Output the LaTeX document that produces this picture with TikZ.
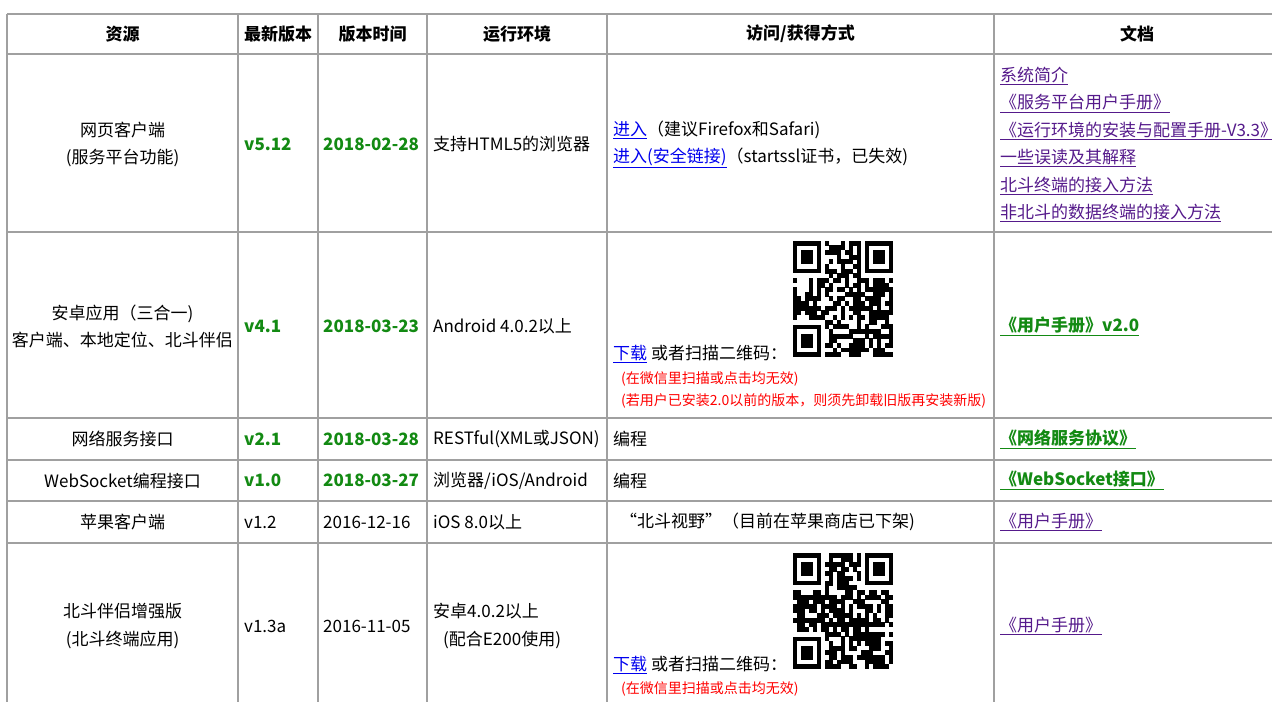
\documentclass[tikz,border=0pt]{standalone}
\usepackage{fontspec}
\setmainfont{Noto Sans CJK SC}
\usetikzlibrary{positioning}

\definecolor{rulegray}{HTML}{A0A0A0}
\definecolor{vgreen}{HTML}{138A13}
\definecolor{linkblue}{HTML}{0000EE}
\definecolor{linkpurple}{HTML}{551A8B}
\definecolor{notered}{HTML}{FF0000}

\newcommand{\cellsize}{\fontsize{17}{27.4}\selectfont}
\newcommand{\notesize}{\fontsize{14}{22}\selectfont}
\newcommand{\lnk}[1]{\textcolor{linkblue}{\underline{#1}}}
\newcommand{\vlnk}[1]{\textcolor{linkpurple}{\underline{#1}}}
\newcommand{\glnk}[1]{\textcolor{vgreen}{\bfseries\underline{#1}}}

% a QR code, top left corner at (#1,#2)
\newcommand{\qrcode}[3]{%
  \pgfmathsetseed{#3}
  \foreach \i in {0,...,24} {
    \foreach \j in {0,...,24} {
      \pgfmathtruncatemacro{\keep}{((\i<8 && \j<8) || (\i>16 && \j<8) || (\i<8 && \j>16)) ? 0 : (rnd<0.62)}
      \ifnum\keep=1 \fill (#1+4*\i-0.2,#2+4.64*\j-0.2) rectangle ++(4.4,4.96); \fi
    }
  }
  \foreach \a/\b in {0/0,18/0,0/18} {
    \fill (#1+4*\a,#2+4.64*\b) rectangle ++(28,32.48);
    \fill[white] (#1+4*\a+4,#2+4.64*\b+4.64) rectangle ++(20,23.2);
    \fill (#1+4*\a+8,#2+4.64*\b+9.28) rectangle ++(12,13.92);
  }
}

\tikzstyle{rule}=[rulegray, line width=1.6pt]
\tikzstyle{head}=[inner sep=0pt, font=\cellsize\bfseries]
\tikzstyle{cell}=[inner sep=0pt, anchor=west, align=left, font=\cellsize]
\tikzstyle{mid}=[inner sep=0pt, align=center, font=\cellsize]
\tikzstyle{ver}=[cell, font=\cellsize\bfseries, text=vgreen]
\tikzstyle{note}=[inner sep=0pt, anchor=west, font=\notesize, text=notered]

\begin{document}
\begin{tikzpicture}[x=1pt,y=-1pt]
  \useasboundingbox[fill=white] (0,0) rectangle (1272,702);

  % table rules
  \foreach \y in {14,54,232,418,460,501,543}
    \draw[rule] (7,\y) -- (1272,\y);
  \foreach \x in {7,238,318,427,607,994}
    \draw[rule] (\x,14) -- (\x,702);

  % header row
  \node[head] (hres)  at (122.5,34) {资源};
  \node[head] (hver)  at (278,34)   {最新版本};
  \node[head] (hdate) at (372.5,34) {版本时间};
  \node[head] (henv)  at (517,34)   {运行环境};
  \node[head] (hacc)  at (800.5,34) {访问/获得方式};
  \node[head] (hdoc)  at (1137,34)  {文档};

  % web client
  \node[mid]  (res1)  at (122.5,144.5) {网页客户端\\(服务平台功能)};
  \node[ver]  (ver1)  at (244,144.5) {v5.12};
  \node[ver]  (date1) at (323,144.5) {2018-02-28};
  \node[cell] (env1)  at (433,144.5) {支持HTML5的浏览器};
  \node[cell] (acc1)  at (613,144.5) {\lnk{进入}（建议Firefox和Safari)\\\lnk{进入(安全链接)}（startssl证书，已失效)};
  \node[cell] (doc1)  at (1000,144.5) {\vlnk{系统简介}\\\vlnk{《服务平台用户手册》}\\\vlnk{《运行环境的安装与配置手册-V3.3》}\\\vlnk{一些误读及其解释}\\\vlnk{北斗终端的接入方法}\\\vlnk{非北斗的数据终端的接入方法}};

  % android app
  \node[mid]  (res2)  at (122.5,326.5) {安卓应用（三合一)\\客户端、本地定位、北斗伴侣};
  \node[ver]  (ver2)  at (244,326.5) {v4.1};
  \node[ver]  (date2) at (323,326.5) {2018-03-23};
  \node[cell] (env2)  at (433,326.5) {Android 4.0.2以上};
  \qrcode{793}{241}{7}
  \node[cell] (acc2)  at (613,354) {\lnk{下载} 或者扫描二维码：};
  \node[note] (note2) at (621,379) {(在微信里扫描或点击均无效)};
  \node[note] (old2)  at (621,401) {(若用户已安装2.0以前的版本，则须先卸载旧版再安装新版)};
  \node[cell] (doc2)  at (1000,326.5) {\glnk{《用户手册》v2.0}};

  % web service
  \node[mid]  (res3)  at (122.5,439) {网络服务接口};
  \node[ver]  (ver3)  at (244,439) {v2.1};
  \node[ver]  (date3) at (323,439) {2018-03-28};
  \node[cell] (env3)  at (433,439) {RESTful(XML或JSON)};
  \node[cell] (acc3)  at (613,439) {编程};
  \node[cell] (doc3)  at (1000,439) {\glnk{《网络服务协议》}};

  % websocket
  \node[mid]  (res4)  at (122.5,480.5) {WebSocket编程接口};
  \node[ver]  (ver4)  at (244,480.5) {v1.0};
  \node[ver]  (date4) at (323,480.5) {2018-03-27};
  \node[cell] (env4)  at (433,480.5) {浏览器/iOS/Android};
  \node[cell] (acc4)  at (613,480.5) {编程};
  \node[cell] (doc4)  at (1000,480.5) {\glnk{《WebSocket接口》}};

  % apple client
  \node[mid]  (res5)  at (122.5,522) {苹果客户端};
  \node[cell] (ver5)  at (244,522) {v1.2};
  \node[cell] (date5) at (323,522) {2016-12-16};
  \node[cell] (env5)  at (433,522) {iOS 8.0以上};
  \node[cell] (acc5)  at (620,522) {“北斗视野”（目前在苹果商店已下架)};
  \node[cell] (doc5)  at (1000,522) {\vlnk{《用户手册》}};

  % beidou companion
  \node[mid]  (res6)  at (122.5,626) {北斗伴侣增强版\\(北斗终端应用)};
  \node[cell] (ver6)  at (244,626) {v1.3a};
  \node[cell] (date6) at (323,626) {2016-11-05};
  \node[cell] (env6)  at (433,626) {安卓4.0.2以上\\\hspace*{10pt}(配合E200使用)};
  \qrcode{793}{553}{11}
  \node[cell] (acc6)  at (613,665) {\lnk{下载} 或者扫描二维码：};
  \node[note] (note6) at (621,689) {(在微信里扫描或点击均无效)};
  \node[cell] (doc6)  at (1000,626) {\vlnk{《用户手册》}};
\end{tikzpicture}
\end{document}
